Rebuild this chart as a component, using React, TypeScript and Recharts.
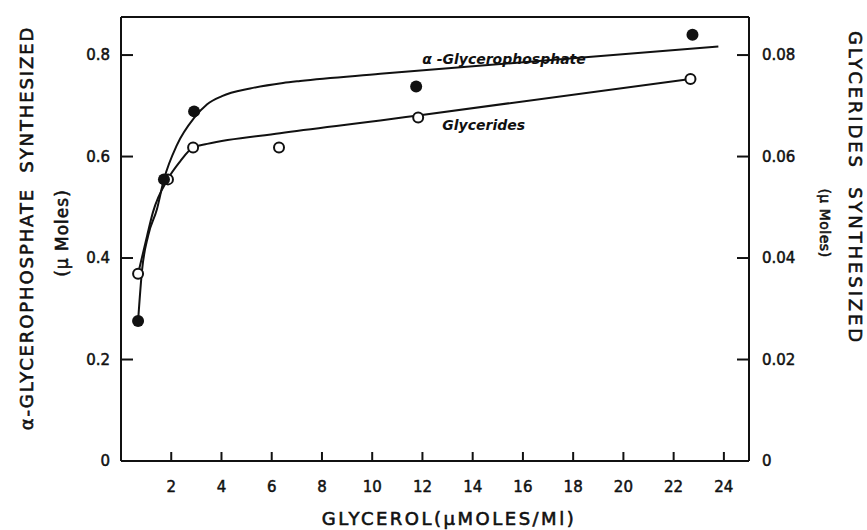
import React from 'react';
import { ComposedChart, Line, Scatter, XAxis, YAxis, Label, ReferenceDot } from 'recharts';

// glycerol (µmoles/ml) ticks and the two y scales
const xTicks = [2, 4, 6, 8, 10, 12, 14, 16, 18, 20, 22, 24];
const gpTicks = [0, 0.2, 0.4, 0.6, 0.8];
const glyTicks = [0, 0.02, 0.04, 0.06, 0.08];

// α-glycerophosphate measured points (filled circles, left axis)
const gpX = [0.68, 1.71, 2.91, 11.75, 22.75];
const gpY = [0.276, 0.555, 0.689, 0.738, 0.84];

// glycerides measured points (open circles, right axis)
const glyX = [0.68, 1.87, 2.87, 6.29, 11.83, 22.67];
const glyY = [0.0369, 0.0555, 0.0618, 0.0618, 0.0677, 0.0753];

// hand drawn fitted curves
const gpCurveX = [0.68, 0.84, 1.08, 1.43, 1.71, 2.23, 2.91, 3.43, 4.02, 5.14, 6.45, 7.13, 10.32, 23.78];
const gpCurveY = [0.276, 0.377, 0.444, 0.496, 0.555, 0.623, 0.676, 0.703, 0.719, 0.734, 0.745, 0.749, 0.763, 0.817];
const glyCurveX = [0.68, 1.04, 1.27, 1.87, 2.35, 2.87, 3.43, 6.33, 10.32, 11.83, 22.67];
const glyCurveY = [0.0369, 0.0444, 0.049, 0.0556, 0.059, 0.0618, 0.0625, 0.0646, 0.0671, 0.0681, 0.0753];

const zip = (xs: number[], ys: number[]) => xs.map((x, i) => ({ x, y: ys[i] }));

const gpPoints = zip(gpX, gpY);
const glyPoints = zip(glyX, glyY);
const gpCurve = zip(gpCurveX, gpCurveY);
const glyCurve = zip(glyCurveX, glyCurveY);

const INK = '#111';
const FONT = '"DejaVu Sans", sans-serif';

// normal weight thickened a little with a stroke, the scan looks semi-bold
const tickStyle = { fill: INK, fontSize: 15, fontFamily: FONT, stroke: INK, strokeWidth: 0.5 };

const fmtLeft = (v: number) => (v === 0 ? '0' : v.toFixed(1));
const fmtRight = (v: number) => (v === 0 ? '0' : v.toFixed(2));

const FilledDot = (props: any) => <circle cx={props.cx} cy={props.cy} r={6} fill={INK} />;
const OpenDot = (props: any) => (
  <circle cx={props.cx} cy={props.cy} r={5} fill="#fff" stroke={INK} strokeWidth={2} />
);

const SeriesLabel = ({ viewBox, text, angle, size }: any) => {
  const x = viewBox.x;
  const y = viewBox.y;
  return (
    <text
      x={x}
      y={y}
      transform={`rotate(${angle} ${x} ${y})`}
      fill={INK}
      fontSize={size}
      fontFamily={FONT}
      fontStyle="italic"
      fontWeight="bold"
    >
      {text}
    </text>
  );
};

const titleProps = {
  textAnchor: 'middle' as const,
  dominantBaseline: 'central' as const,
  fill: INK,
  stroke: INK,
  strokeWidth: 0.6,
  fontFamily: FONT,
  style: { whiteSpace: 'pre' as const },
};

export default function App() {
  return (
    <div style={{ position: 'absolute', left: 0, top: 0, background: '#fff' }}>
      <ComposedChart width={867} height={530} margin={{ top: 0, right: 0, bottom: 0, left: 0 }}>
        <XAxis
          xAxisId="bottom"
          type="number"
          dataKey="x"
          domain={[0, 25]}
          ticks={xTicks}
          height={69}
          tickSize={-9}
          tickMargin={29}
          stroke={INK}
          strokeWidth={2}
          tick={tickStyle}
          allowDataOverflow
        >
          <Label
            content={() => (
              <text x={449} y={518} {...titleProps} fontSize={18} letterSpacing={2.5}>
                GLYCEROL(μMOLES/Ml)
              </text>
            )}
          />
        </XAxis>
        <XAxis
          xAxisId="top"
          orientation="top"
          type="number"
          dataKey="x"
          domain={[0, 25]}
          ticks={xTicks}
          height={17}
          tickSize={-11}
          tick={false}
          stroke={INK}
          strokeWidth={2}
          allowDataOverflow
        />
        <YAxis
          yAxisId="left"
          type="number"
          domain={[0, 0.875]}
          ticks={gpTicks}
          width={121}
          tickSize={-12}
          tickMargin={23}
          tickFormatter={fmtLeft}
          stroke={INK}
          strokeWidth={2}
          tick={tickStyle}
          allowDataOverflow
        >
          <Label
            content={() => (
              <g>
                <text x={26} y={228} transform="rotate(-90 26 228)" {...titleProps} fontSize={18} letterSpacing={1.9}>
                  {'α-GLYCEROPHOSPHATE  SYNTHESIZED'}
                </text>
                <text x={62} y={233} transform="rotate(-90 62 233)" {...titleProps} fontSize={17} letterSpacing={1}>
                  {'(μ Moles)'}
                </text>
              </g>
            )}
          />
        </YAxis>
        <YAxis
          yAxisId="right"
          orientation="right"
          type="number"
          domain={[0, 0.0875]}
          ticks={glyTicks}
          width={118}
          tickSize={-12}
          tickMargin={25}
          tickFormatter={fmtRight}
          stroke={INK}
          strokeWidth={2}
          tick={tickStyle}
          allowDataOverflow
        >
          <Label
            content={() => (
              <g>
                <text x={855} y={188} transform="rotate(90 855 188)" {...titleProps} fontSize={18} letterSpacing={2.9}>
                  {'GLYCERIDES  SYNTHESIZED'}
                </text>
                <text x={825} y={223} transform="rotate(90 825 223)" {...titleProps} fontSize={14} letterSpacing={0.5}>
                  {'(μ Moles)'}
                </text>
              </g>
            )}
          />
        </YAxis>

        <Line
          data={gpCurve}
          dataKey="y"
          xAxisId="bottom"
          yAxisId="left"
          type="monotone"
          stroke={INK}
          strokeWidth={2}
          dot={false}
          activeDot={false}
          isAnimationActive={false}
        />
        <Line
          data={glyCurve}
          dataKey="y"
          xAxisId="bottom"
          yAxisId="right"
          type="monotone"
          stroke={INK}
          strokeWidth={2}
          dot={false}
          activeDot={false}
          isAnimationActive={false}
        />
        <Scatter
          data={glyPoints}
          dataKey="y"
          xAxisId="bottom"
          yAxisId="right"
          shape={OpenDot}
          isAnimationActive={false}
        />
        <Scatter
          data={gpPoints}
          dataKey="y"
          xAxisId="bottom"
          yAxisId="left"
          shape={FilledDot}
          isAnimationActive={false}
        />

        <ReferenceDot
          x={12.03}
          y={0.78}
          xAxisId="bottom"
          yAxisId="left"
          r={1}
          fill="none"
          stroke="none"
          label={<SeriesLabel text="α -Glycerophosphate" angle={-3} size={14} />}
        />
        <ReferenceDot
          x={12.83}
          y={0.65}
          xAxisId="bottom"
          yAxisId="left"
          r={1}
          fill="none"
          stroke="none"
          label={<SeriesLabel text="Glycerides" angle={-4} size={14} />}
        />
      </ComposedChart>
    </div>
  );
}
